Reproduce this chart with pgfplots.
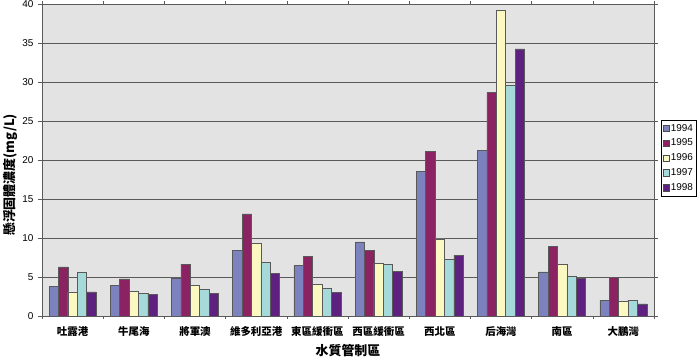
\documentclass[border=0pt]{standalone}
\usepackage{fontspec}
\setmainfont{Liberation Sans}
\newfontfamily\cjk{Noto Sans CJK TC}
\usepackage{pgfplots}
\pgfplotsset{compat=1.18}
\definecolor{cA}{HTML}{7B82BE}
\definecolor{cB}{HTML}{8B2363}
\definecolor{cC}{HTML}{FBF8C2}
\definecolor{cD}{HTML}{A6DADA}
\definecolor{cE}{HTML}{5E2180}
\definecolor{bg}{HTML}{E3E3E3}
\definecolor{gridc}{HTML}{5A5A5A}
\begin{document}
\begin{tikzpicture}
\path[use as bounding box] (0,0) rectangle (700bp,358bp);
\begin{axis}[
  at={(42bp,42bp)}, anchor=south west,
  scale only axis, width=612bp, height=312bp,
  ybar=0pt, bar width=9.4bp,
  xmin=-0.5, xmax=9.5, ymin=0, ymax=40,
  ytick={0,5,...,40},
  xtick={0,...,9},
  xticklabels={吐露港,牛尾海,將軍澳,維多利亞港,東區緩衝區,西區緩衝區,西北區,后海灣,南區,大鵬灣},
  minor xtick={-0.5,0.5,...,9.5},
  major x tick style={draw=none},
  minor tick length=3bp,
  major tick length=4bp,
  tick align=outside,
  tick style={gridc, line width=0.6bp},
  ymajorgrids, grid style={gridc, line width=0.8bp},
  axis background/.style={fill=bg},
  axis line style={gridc, line width=0.8bp},
  yticklabel style={font=\fontsize{10}{12}\selectfont, /pgf/number format/assume math mode=true, xshift=-1bp},
  xticklabel style={font=\cjk\bfseries\fontsize{10.5}{12}\selectfont, yshift=-3bp},
  xlabel={\cjk\bfseries\fontsize{13}{14}\selectfont 水質管制區},
  xlabel style={at={(rel axis cs:0.5,0)}, anchor=north, yshift=-25bp},
  ylabel={\cjk\bfseries\fontsize{13}{14}\selectfont 懸浮固體濃度(mg/L)},
  ylabel style={at={(rel axis cs:-0.0523,0.452)}, anchor=center},
  legend style={at={(rel axis cs:1.0114,0.628)}, anchor=north west, draw=black, fill=white,
    font=\fontsize{10}{11}\selectfont, inner xsep=1.5bp, inner ysep=2.5bp, row sep=3.8bp,
    nodes={inner sep=1.3bp}},
  legend image code/.code={\draw[#1, draw=black!70] (0bp,-3.2bp) rectangle (6.4bp,3.2bp);},
  legend cell align=left,
  every axis plot/.append style={draw=black!65, line width=0.5bp},
]
\addplot[fill=cA] coordinates {(0,3.8) (1,3.9) (2,4.9) (3,8.4) (4,6.45) (5,9.5) (6,18.5) (7,21.2) (8,5.65) (9,2.0)};
\addplot[fill=cB] coordinates {(0,6.3) (1,4.75) (2,6.65) (3,13.1) (4,7.6) (5,8.4) (6,21.15) (7,28.65) (8,8.95) (9,4.95)};
\addplot[fill=cC] coordinates {(0,3.1) (1,3.15) (2,3.9) (3,9.35) (4,4.1) (5,6.75) (6,9.9) (7,39.2) (8,6.65) (9,1.9)};
\addplot[fill=cD] coordinates {(0,5.6) (1,2.9) (2,3.4) (3,6.9) (4,3.55) (5,6.6) (6,7.25) (7,29.55) (8,5.1) (9,2.0)};
\addplot[fill=cE] coordinates {(0,3.1) (1,2.8) (2,2.9) (3,5.5) (4,3.05) (5,5.75) (6,7.8) (7,34.25) (8,4.85) (9,1.55)};
\legend{1994,1995,1996,1997,1998}
\end{axis}
\end{tikzpicture}
\end{document}
